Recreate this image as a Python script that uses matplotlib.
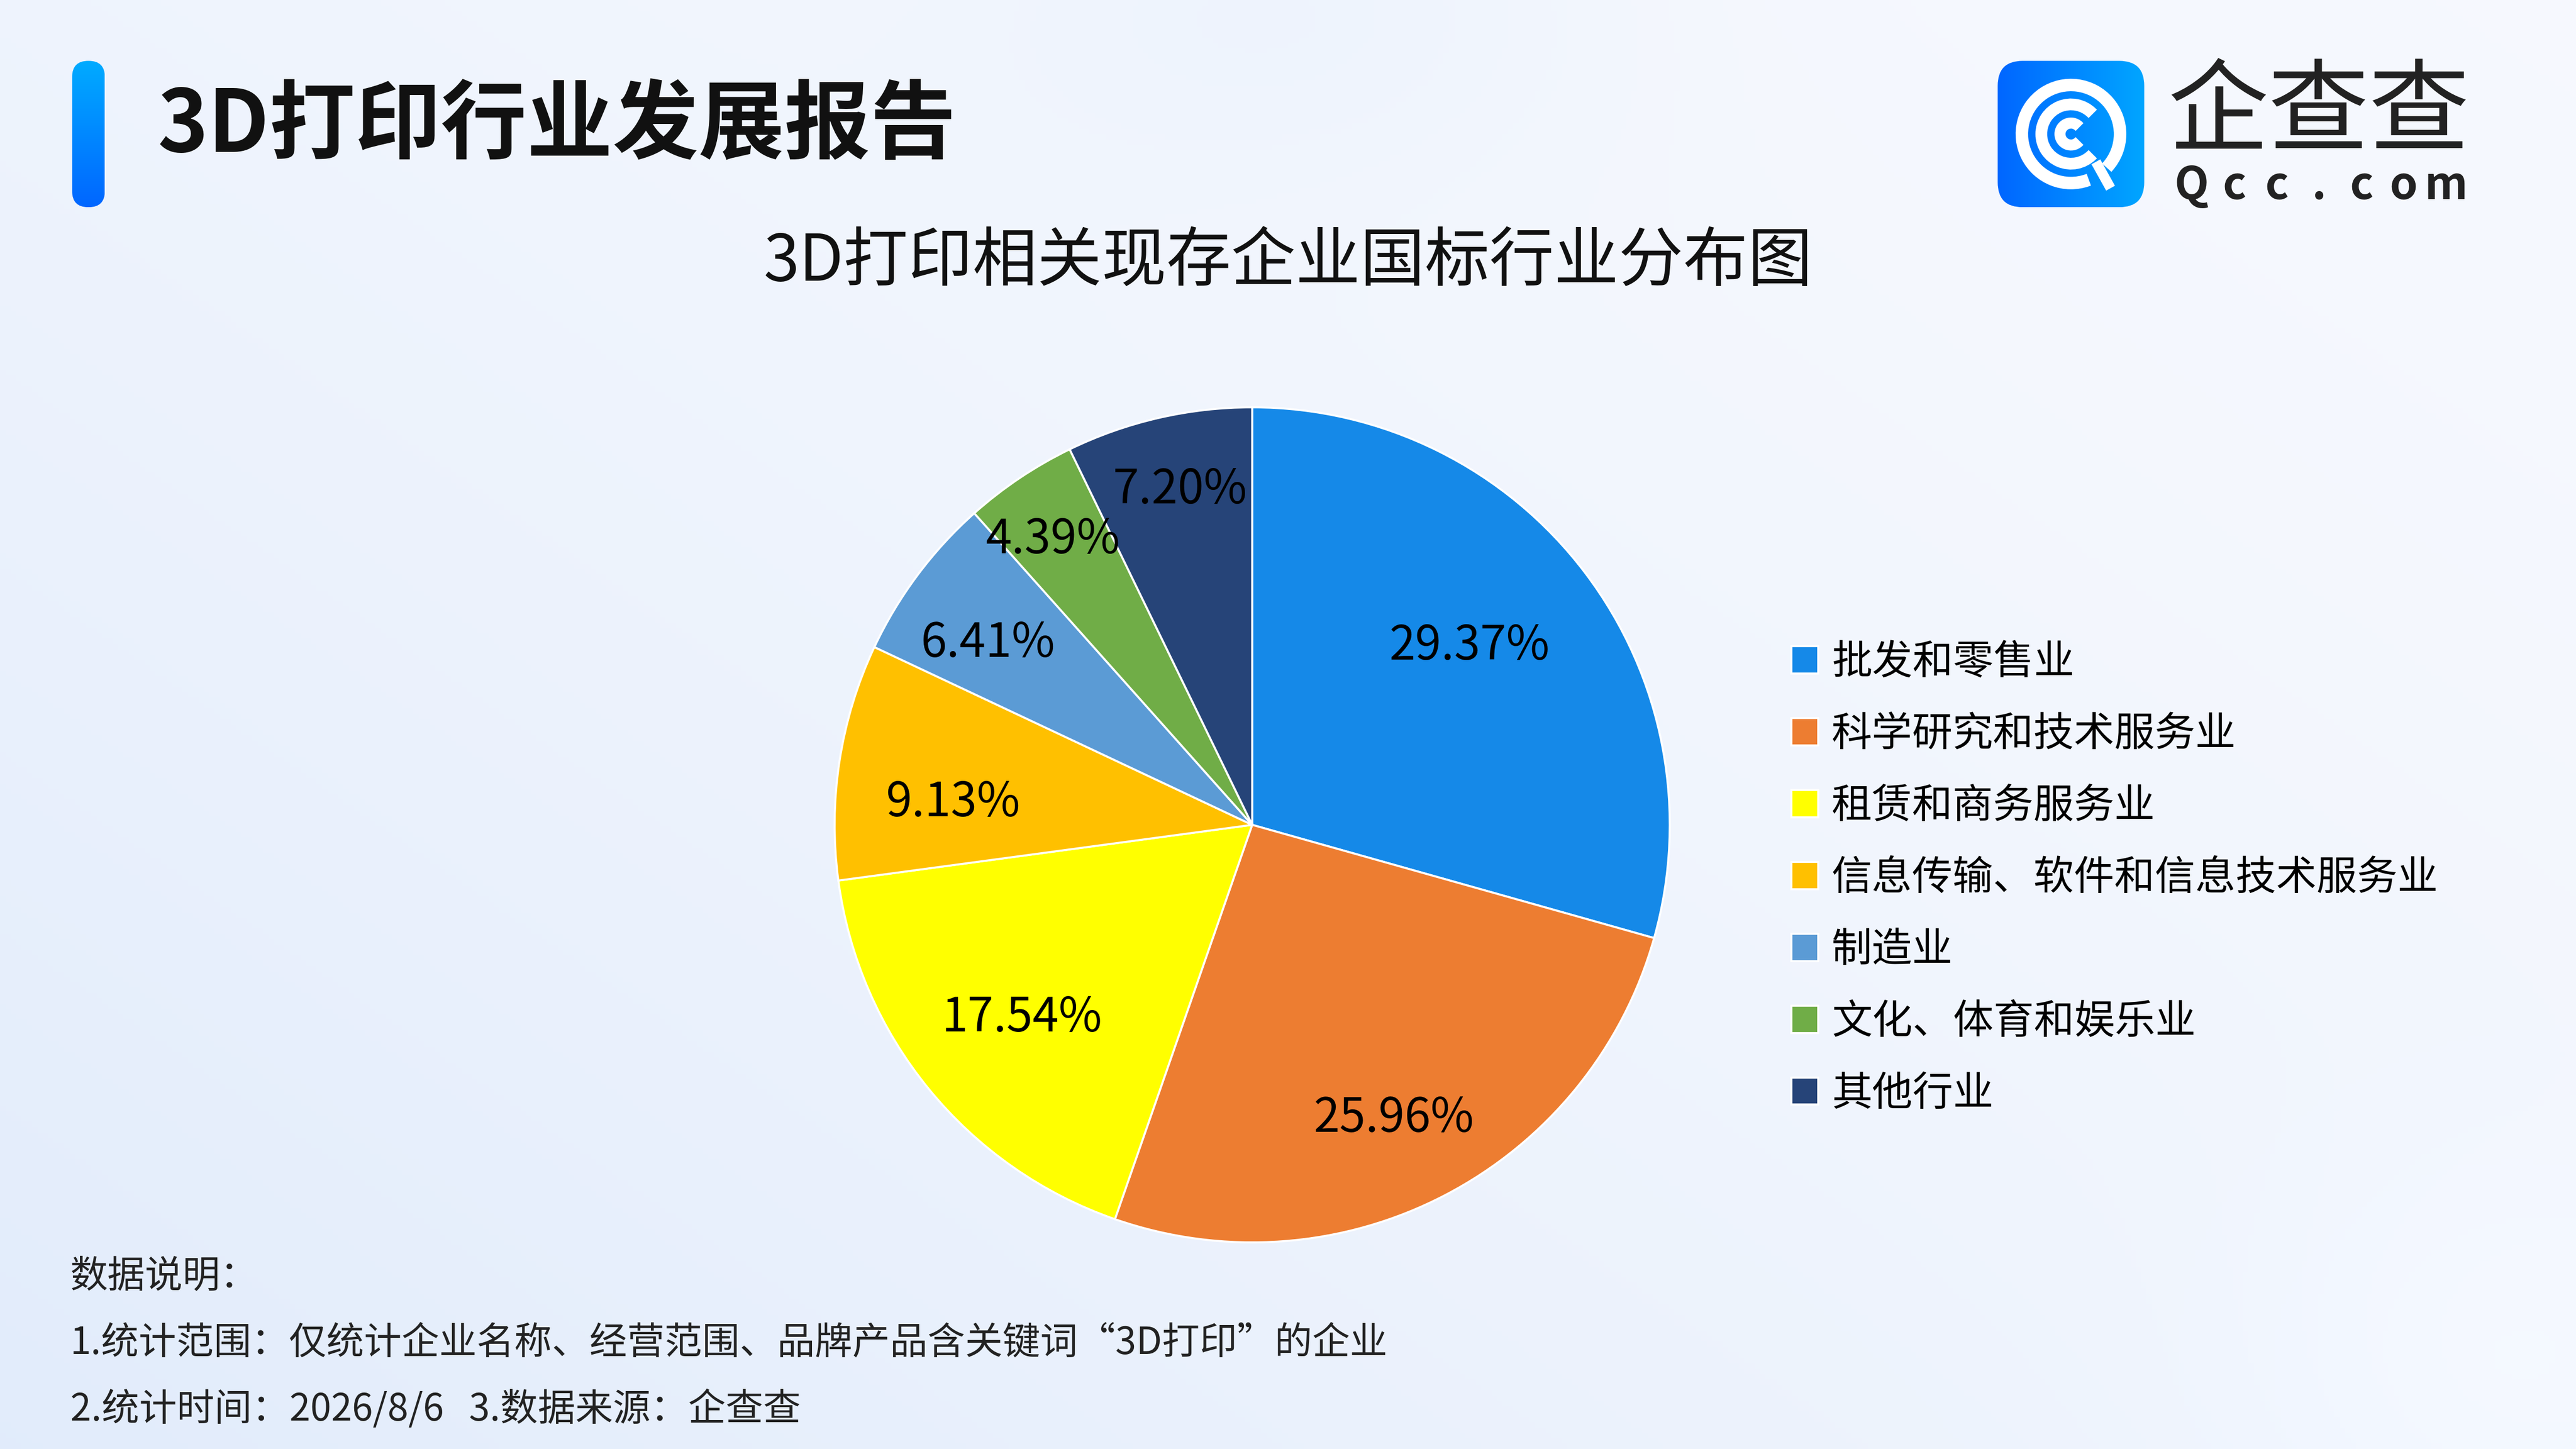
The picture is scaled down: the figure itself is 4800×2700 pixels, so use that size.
import numpy as np
import matplotlib
matplotlib.use("Agg")
import matplotlib.pyplot as plt
from matplotlib.patches import FancyBboxPatch, Wedge

plt.rcParams['font.family'] = ['Noto Sans CJK SC', 'DejaVu Sans']

# 数据
categories = ['批发和零售业', '科学研究和技术服务业', '租赁和商务服务业',
              '信息传输、软件和信息技术服务业', '制造业', '文化、体育和娱乐业', '其他行业']
shares = [29.37, 25.96, 17.54, 9.13, 6.41, 4.39, 7.20]
colors = ['#1589E8', '#ED7D31', '#FFFF00', '#FFC000', '#5B9BD5', '#70AD47', '#264478']

header = '3D打印行业发展报告'
chart_title = '3D打印相关现存企业国标行业分布图'
notes = ['数据说明：',
         '1.统计范围：仅统计企业名称、经营范围、品牌产品含关键词“3D打印”的企业',
         '2.统计时间：2026/8/6   3.数据来源：企查查']

# label placement (Excel-like): distance from centre and angle shift per slice
label_r = [0.677, 0.775, 0.716, 0.719, 0.772, 0.838, 0.826]
label_dang = [2.7, -1.6, 0.4, 4.1, 1.9, 0.9, -0.9]

fig = plt.figure(figsize=(16, 9), dpi=300)

# background gradient
bg = fig.add_axes([0, 0, 1, 1], zorder=-10)
h, w = 270, 480
yy, xx = np.mgrid[0:h, 0:w]
xn, yn = xx / w, yy / h
t = np.clip(0.55 * (1 - xn) + 0.45 * yn, 0, 1)
c0 = np.array([0.965, 0.975, 0.997])
c1 = np.array([0.885, 0.925, 0.985])
img = c0 + (c1 - c0) * t[..., None] ** 1.6
blob = np.exp(-(((xn - 0.5) / 0.12) ** 2 + ((yn - 0.0) / 0.12) ** 2))
img = img - 0.02 * blob[..., None] * np.array([1, 0.6, 0.1])
blob2 = np.exp(-(((xn - 0.97) / 0.1) ** 2 + ((yn - 0.95) / 0.15) ** 2))
img = img + 0.015 * blob2[..., None]
bg.imshow(np.clip(img, 0, 1), aspect='auto', extent=(0, 1, 0, 1), origin='upper')
bg.set_xlim(0, 1)
bg.set_ylim(0, 1)
bg.axis('off')

# blue bar next to header
bar = fig.add_axes([0.028, 0.857, 0.0127, 0.101])
grad = np.linspace(0, 1, 200)[:, None]
top_c = np.array([0.0, 0.67, 1.0])
bot_c = np.array([0.0, 0.40, 1.0])
bar_img = top_c + (bot_c - top_c) * grad[..., None]
im = bar.imshow(bar_img, aspect='auto', extent=(0, 61, 0, 273), origin='upper')
clip = FancyBboxPatch((0, 0), 61, 273, boxstyle='round,pad=0,rounding_size=30',
                      transform=bar.transData, fc='none', ec='none')
bar.add_patch(clip)
im.set_clip_path(clip)
bar.set_xlim(0, 61)
bar.set_ylim(0, 273)
bar.axis('off')

fig.text(0.0612, 0.9127, header, fontsize=38.4, fontweight='bold', color='#111111',
         ha='left', va='center')

# logo
icon = fig.add_axes([0.7755, 0.857, 0.0569, 0.101])
hgrad = np.linspace(0, 1, 200)[None, :]
l_c = np.array([0.0, 0.40, 1.0])
r_c = np.array([0.0, 0.65, 1.0])
icon_img = l_c + (r_c - l_c) * hgrad[..., None]
im2 = icon.imshow(np.repeat(icon_img, 10, axis=0), aspect='auto', extent=(0, 1, 0, 1))
clip2 = FancyBboxPatch((0, 0), 1, 1, boxstyle='round,pad=0,rounding_size=0.17',
                       transform=icon.transData, fc='none', ec='none')
icon.add_patch(clip2)
im2.set_clip_path(clip2)
icon.add_patch(Wedge((0.5, 0.5), 0.37, -42, 290, width=0.07, color='white'))
icon.add_patch(Wedge((0.5, 0.5), 0.235, 45, 315, width=0.065, color='white'))
icon.add_patch(Wedge((0.5, 0.5), 0.105, 45, 315, width=0.06, color='white'))
icon.plot([0.67, 0.77], [0.31, 0.13], color='white', lw=4.5, solid_capstyle='butt')
icon.set_xlim(0, 1)
icon.set_ylim(0, 1)
icon.axis('off')

fig.text(0.9003, 0.9015, '企查查', fontsize=45, color='#222222', ha='center', va='baseline',
         fontweight='medium')
for i, ch in enumerate('Qcc.com'):
    fig.text(0.8508 + i * 0.01646, 0.8625, ch, fontsize=20, color='#222222',
             ha='center', va='baseline', fontweight='bold')

fig.text(0.5, 0.8186, chart_title, fontsize=28.9, color='#111111', ha='center', va='center')

# pie
ax = fig.add_axes([0.324, 0.1426, 0.3242, 0.5763])
wedges, _, autotexts = ax.pie(shares, colors=colors, startangle=90, counterclock=False,
                              autopct='%.2f%%', radius=1,
                              wedgeprops=dict(edgecolor='white', linewidth=0.9),
                              textprops=dict(fontsize=21, color='#000000'))
for wd, txt, r, da in zip(wedges, autotexts, label_r, label_dang):
    mid = np.deg2rad((wd.theta1 + wd.theta2) / 2 + da)
    txt.set_position((r * np.cos(mid), r * np.sin(mid) - 0.006))
    txt.set_ha('center')
    txt.set_va('center')
ax.set_xlim(-1, 1)
ax.set_ylim(-1, 1)
ax.set_aspect('auto')
ax.axis('off')

fig.legend(wedges, categories, loc='center left', bbox_to_anchor=(0.6955, 0.394),
           frameon=False, fontsize=18.1, handlelength=0.66, handleheight=0.66,
           handletextpad=0.33, labelspacing=0.755, borderpad=0, borderaxespad=0)

for txt, y in zip(notes, [0.119, 0.0726, 0.0272]):
    fig.text(0.0272, y, txt, fontsize=16.8, color='#222222', ha='left', va='center')

fig.savefig('out.png', dpi=300)
